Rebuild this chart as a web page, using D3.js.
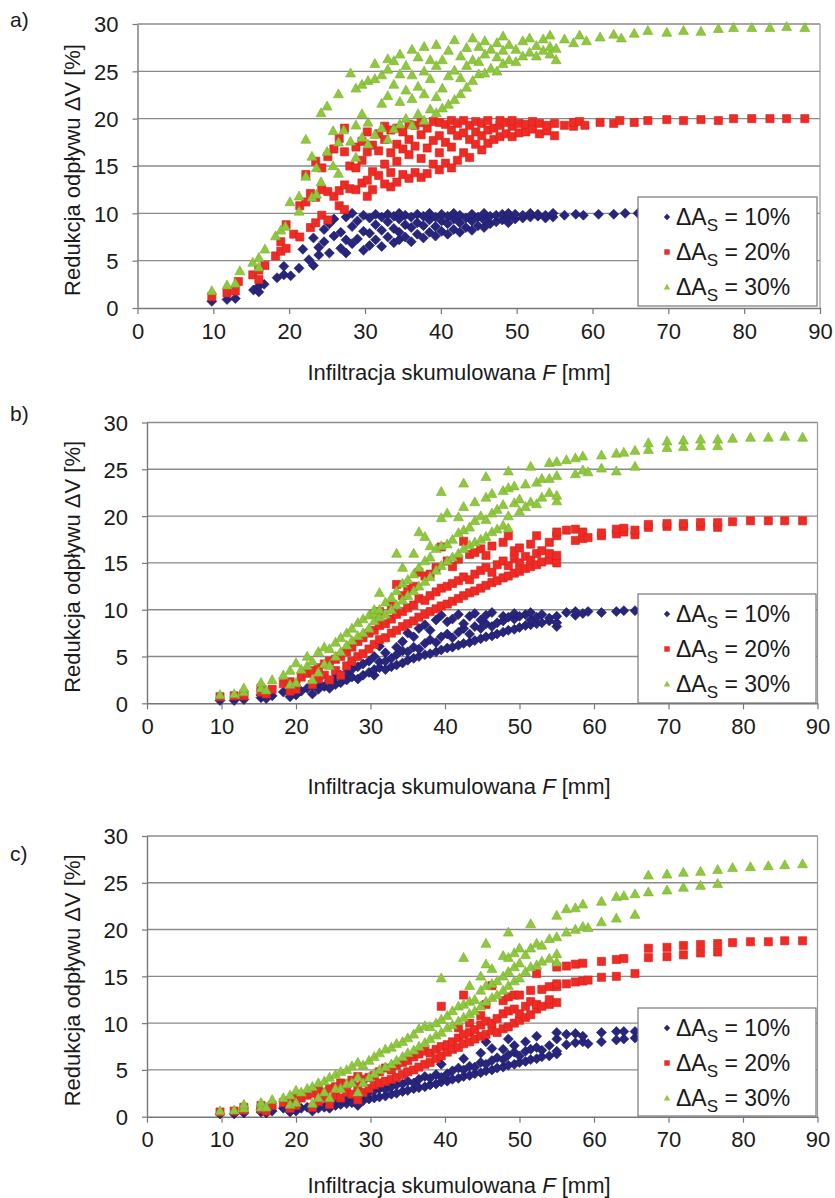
<!DOCTYPE html>
<html><head><meta charset="utf-8">
<script src="https://cdn.jsdelivr.net/npm/d3@7"></script>
<style>
body{margin:0;background:#fff}
svg{display:block}
text{font-family:"Liberation Sans",Arial,sans-serif;fill:#1a1a1a}
</style></head>
<body><svg id="chart" width="835" height="1198"></svg>
<script>
// ---- DATA: each entry = [F, y1, y2, ...] (points at same F) ----
const xTicks = [0,10,20,30,40,50,60,70,80,90];
const yTicks = [0,5,10,15,20,25,30];
const seriesLabels = ["10%","20%","30%"];
const panelLabels = ["a)","b)","c)"];
const xTitle = "Infiltracja skumulowana ";
const yTitle = "Redukcja odpływu ΔV [%]";

const a10 = [[9.8,0.7],[11.8,0.9],[12.9,1.0],[15.3,1.9],[16.0,1.7,2.3],[16.7,2.5],[18.4,3.2],[19.3,3.5,4.4],[20.2,3.4],[21.3,4.2],[21.8,6.2],[22.6,5.1],[23.2,4.5,7.4],[23.9,5.6,6.4],[24.6,7.0,8.3],[25.3,5.8,8.9],[25.9,7.6,9.4],[26.8,6.3,8.0],[27.5,5.8,7.2,9.6],[28.3,6.8,8.6,10.0],[29.0,7.3,9.2],[29.8,6.1,8.1,9.8],[30.6,6.6,7.9,9.5],[31.4,7.2,8.8,9.9],[32.2,6.5,8.2,9.6],[33.0,7.5,9.1,9.9],[33.8,6.9,8.4,9.7],[34.5,7.2,8.0,9.4,10.0],[35.3,7.5,8.8,9.8],[36.1,7.0,8.5,9.6],[36.9,7.8,9.0,9.9],[37.7,7.4,8.7,9.7],[38.5,8.0,9.3,10.0],[39.3,7.6,8.6,9.6],[40.1,8.1,9.2,9.9],[40.9,7.8,8.9,9.7],[41.7,8.3,9.4,10.0],[42.5,8.0,9.0,9.8],[43.3,8.5,9.5],[44.1,8.2,9.2,9.9],[44.9,8.7,9.6],[45.7,8.5,9.3,10.0],[46.5,8.9,9.7],[47.3,9.1,9.8],[48.1,9.3,9.9],[48.9,9.0,9.6,10.0],[49.8,9.4,9.9],[50.8,9.5,9.8],[51.8,9.6,10.0],[52.8,9.7,9.9],[53.8,9.5,9.8],[54.8,9.6,10.0],[56.3,9.8],[57.8,9.9],[58.8,9.8],[60.8,9.9],[62.8,9.9],[64.3,10.0],[66.0,10.0],[67.3,10.0],[69.8,10.0],[72.0,10.0],[74.3,10.0],[76.6,10.0],[78.6,10.0],[81.0,10.0],[83.4,10.0],[85.6,10.0],[88.0,10.0]];
const a20 = [[9.8,1.2],[11.8,1.6],[12.9,1.8],[13.3,2.8],[15.2,3.5],[16.0,3.0,4.0],[16.8,4.5],[18.2,5.5],[18.9,6.0,7.0],[19.6,6.3,8.8],[20.6,7.8],[21.4,7.5,10.8],[22.2,11.2,14.1],[22.8,8.5,12.1],[23.5,9.0,11.7,15.5],[24.3,9.8,12.5,14.8],[25.1,9.3,12.3,16.0],[25.9,11.8,16.8],[26.6,10.8,12.4,17.9],[27.3,10.4,13.0,16.5,19.0],[28.0,12.6,15.0],[28.8,12.5,14.8,17.0],[29.6,13.2,15.6,17.6],[30.3,11.8,13.5,16.5,18.6],[31.0,12.5,14.4,17.2],[31.8,14.0,16.6,18.4],[32.6,13.1,15.2,17.8,19.2],[33.4,12.8,14.3,16.4,18.8],[34.2,13.3,15.5,17.3,19.0],[35.0,14.1,16.8,18.6],[35.8,13.7,16.2,17.8,19.4],[36.6,14.3,17.1,19.3],[37.4,13.8,15.8,18.3,19.6],[38.2,14.2,16.9,19.0],[39.0,15.2,17.7,19.7],[39.8,14.6,16.4,18.2,19.6],[40.6,15.3,17.5,19.4],[41.4,14.8,17.0,18.8,19.8],[42.2,15.6,18.2,19.5],[43.0,16.4,18.5,19.8],[43.8,15.9,17.8,19.3],[44.6,17.3,18.6,19.7],[45.4,16.7,18.2,19.5],[46.2,17.4,18.8,19.8],[47.0,17.8,19.0],[47.8,18.1,19.3,19.8],[48.6,18.4,19.6],[49.4,18.1,19.2,19.8],[50.3,18.5,19.5],[51.2,18.6,19.4],[52.1,18.9,19.7],[53.0,18.4,19.5],[54.0,18.7,19.3],[55.0,18.2,19.5],[56.3,19.3],[57.5,19.2,19.6],[58.3,19.7],[59.0,19.3],[61.0,19.6],[62.8,19.5],[63.6,19.8],[65.5,19.6],[67.3,19.8],[69.8,19.9],[72.0,19.8],[74.3,19.9],[76.6,19.8],[78.6,20.0],[81.0,20.0],[83.4,20.0],[85.6,20.0],[88.0,20.0]];
const a30 = [[9.8,1.8],[11.8,2.4],[12.9,2.6],[13.5,3.9],[15.2,4.8],[16.0,4.3,5.3],[16.8,6.2],[18.2,7.6],[18.9,8.2],[19.5,8.6],[20.1,11.2],[21.3,10.2,11.8],[22.2,13.9,17.8],[23.0,11.7,16.0],[23.6,12.0,14.8],[24.2,13.3,20.6],[25.0,16.5,21.3],[25.8,15.0,18.7],[26.5,14.2,17.5,22.6],[27.2,18.8],[28.1,17.6,24.8],[28.8,15.9,19.3,23.2],[29.6,18.0,20.5,23.6],[30.4,17.3,19.6,24.0],[31.3,18.3,24.2,25.8],[32.2,19.0,21.6,24.6],[33.0,17.8,22.4,25.2,26.3],[33.8,18.9,23.6,26.1],[34.6,19.4,21.8,24.7,26.8],[35.4,20.0,23.0,25.6],[36.2,19.3,22.1,24.6,27.3],[37.0,20.5,23.4,26.5],[37.8,19.8,22.6,25.0,27.6],[38.6,21.0,24.2,26.2],[39.4,20.6,22.3,25.6,27.8],[40.2,21.1,23.2,26.2],[41.0,21.5,24.5,27.2],[41.8,22.0,25.1,28.3],[42.6,22.6,24.3,26.6],[43.4,23.3,25.6,27.5],[44.2,24.0,26.2,28.5],[45.0,24.7,26.0,27.6],[45.8,24.8,26.8,28.2],[46.6,25.3,27.3],[47.4,25.0,26.5,28.0],[48.2,25.8,27.2,28.7],[49.0,26.2,27.8],[49.9,26.0,27.3],[50.8,26.6,28.2],[51.7,27.0,28.5],[52.6,26.6,27.7],[53.5,27.2,28.4],[54.4,26.8,27.6,28.8],[55.2,26.2,27.4],[56.3,28.4],[57.5,28.0],[58.3,28.8],[59.2,28.2],[61.0,28.6],[62.8,28.9],[63.8,28.5],[65.5,29.0],[67.3,29.3],[69.8,29.1],[72.0,29.3],[74.3,29.2],[76.6,29.5],[78.6,29.6],[81.0,29.6],[83.4,29.6],[85.6,29.7],[88.0,29.6]];

const b10 = [[9.8,0.3],[11.7,0.3],[13.0,0.4],[15.3,0.6,0.9],[16.0,0.5],[16.8,0.8],[18.3,1.2],[19.2,0.7,1.4],[20.0,0.9],[20.7,1.3],[21.5,1.6],[22.2,1.0,1.9],[23.0,1.5,2.2],[23.8,1.8],[24.5,1.6,2.4],[25.3,2.0,2.8],[26.0,2.2,3.0],[26.8,2.5,3.3],[27.5,2.8,3.6],[28.3,2.6,3.9],[29.0,3.0,4.2],[29.8,3.3,4.5],[30.5,3.0,3.6,5.0],[31.2,3.8,4.4,6.1],[32.0,3.6,4.5,5.4],[32.8,3.9,4.8],[33.5,4.1,5.2,6.0],[34.3,4.3,5.6,6.6],[35.0,4.6,5.5,7.5],[35.8,4.8,6.0,7.1],[36.5,5.0,5.8,8.0],[37.3,5.2,6.4,8.4],[38.0,5.3,6.8,7.8],[38.8,5.5,6.5,8.9],[39.5,5.7,7.1,9.4],[40.3,5.9,7.4,8.7],[41.0,6.0,7.0,9.0],[41.8,6.2,7.6,9.5],[42.5,6.4,8.0,8.5],[43.3,6.5,7.4,9.3],[44.0,6.7,8.2,9.6],[44.8,6.9,8.0,8.9],[45.5,7.1,8.5,9.4],[46.3,7.2,8.2,9.7],[47.0,7.4,8.6],[47.8,7.6,8.8,9.3],[48.5,7.8,9.2],[49.3,7.9,9.0,9.6],[50.0,8.1,9.3],[50.8,8.3,9.5],[51.5,8.4,8.9,9.7],[52.3,8.5,9.2],[53.0,8.6,9.5],[54.0,8.8,9.1],[55.0,8.2,8.6,9.3],[56.3,9.7],[57.5,9.4,9.8],[58.5,9.6],[59.2,9.8],[61.0,9.7],[63.0,9.8],[64.0,9.9],[65.5,9.9],[67.3,9.9],[69.8,10.0],[72.0,10.0],[74.3,10.0],[76.6,10.0],[78.6,10.0],[81.0,10.0],[83.4,10.0],[85.6,10.0],[88.0,10.0]];
const b20 = [[9.8,0.7],[11.7,0.8],[13.0,0.8,1.0],[15.3,1.2,1.6],[16.0,1.0],[16.8,1.5],[18.3,2.1],[19.2,1.3,2.3],[20.0,1.5,2.0],[20.7,2.8],[21.5,3.2],[22.2,2.0,3.5],[23.0,2.6,3.8],[23.8,3.0,4.2],[24.5,2.5,4.5],[25.3,3.5,4.7],[26.0,3.0,5.0],[26.8,4.0,5.5],[27.5,4.5,6.0],[28.3,5.0,6.6],[29.0,5.3,7.0],[29.8,5.8,7.5],[30.5,6.3,7.8,9.5],[31.2,6.8,8.3,9.8],[32.0,7.0,8.5],[32.8,7.5,9.0,10.4],[33.5,7.8,9.5,12.7],[34.3,8.2,9.8,11.5],[35.0,8.5,10.2,12.2],[35.8,8.8,10.5,12.5],[36.5,9.2,11.2,14.0],[37.3,9.5,11.0,13.6],[38.0,9.8,11.5,13.8],[38.8,10.1,11.9,14.5],[39.5,10.4,12.3,16.7],[40.3,10.6,12.5,15.2],[41.0,10.9,12.8,14.6],[41.8,11.2,13.1,15.4],[42.5,11.5,13.5,17.3],[43.3,11.8,13.2,15.9],[44.0,12.0,13.8,16.1],[44.8,12.3,14.2,16.5],[45.5,12.6,14.5,15.8],[46.3,12.9,14.0,16.8],[47.0,13.1,14.8],[47.8,13.4,15.2,17.2],[48.5,13.6,14.7,17.9],[49.3,13.9,15.5,16.3],[50.0,14.1,15.0,16.6],[50.8,14.4,15.7],[51.5,14.6,15.3,17.0],[52.3,14.8,16.0,17.9],[53.0,15.1,16.3],[54.0,15.3,16.0,17.2],[55.0,15.0,15.8,17.9,18.3],[56.3,18.5],[57.5,17.4,18.6],[58.5,17.6,18.3],[59.2,17.7],[61.0,17.9,18.2],[63.0,18.1,18.6],[64.0,18.3,18.7],[65.5,18.0,18.5],[67.3,18.8,19.1],[69.8,18.9,19.2],[72.0,18.9,19.2],[74.3,18.9,19.3],[76.6,18.8,19.3],[78.6,19.4],[81.0,19.5],[83.4,19.5],[85.6,19.5],[88.0,19.5]];
const b30 = [[9.8,0.9],[11.7,1.0],[13.0,1.2,1.6],[15.3,1.6,2.2],[16.0,1.4],[16.8,2.5],[18.3,3.0],[19.2,2.0,3.5],[20.0,2.2,4.3],[20.7,3.6],[21.5,4.0,5.0],[22.2,2.5,4.5],[23.0,3.3,5.5],[23.8,4.2,6.0],[24.5,4.0,5.8],[25.3,5.0,6.5],[26.0,5.5,7.0],[26.8,6.2,7.5],[27.5,6.7,8.0],[28.3,7.2,8.6],[29.0,7.5,9.0],[29.8,8.0,9.4],[30.5,8.8,9.6,10.0],[31.2,9.2,10.0,11.8],[32.0,9.5,10.8],[32.8,10.0,11.3],[33.5,10.5,12.0,16.0],[34.3,11.0,12.8,14.5],[35.0,11.5,13.2],[35.8,12.0,13.8,16.0],[36.5,12.5,14.5,18.3],[37.3,13.0,15.2,17.8],[38.0,13.5,15.6,16.8],[38.8,14.2,16.5],[39.5,14.7,16.8,19.8,22.6],[40.3,15.2,17.0,20.3],[41.0,15.6,17.5],[41.8,16.0,18.2,19.9],[42.5,16.5,18.5,21.0,23.5],[43.3,16.9,18.8],[44.0,17.2,19.5,21.5],[44.8,17.5,20.0],[45.5,17.8,19.6,22.0,24.2],[46.3,18.3,20.3,22.4],[47.0,18.6,20.7],[47.8,19.0,21.2,22.7],[48.5,18.7,20.0,23.0,24.8],[49.3,21.4,23.2],[50.0,20.5,21.8],[50.8,21.0,23.4],[51.5,21.5,25.3],[52.3,21.3,23.6],[53.0,22.0,24.0],[54.0,22.5,24.0,25.7],[55.0,21.6,22.2,24.3,25.8],[56.3,26.0],[57.5,24.5,26.2],[58.5,24.9,26.4],[59.2,24.7],[61.0,25.1,26.5],[63.0,24.8,26.7],[64.0,26.8],[65.5,25.3,27.0],[67.3,27.1,27.8],[69.8,27.3,28.0],[72.0,27.4,28.1],[74.3,27.5,28.2],[76.6,27.5,28.2],[78.6,28.3],[81.0,28.4],[83.4,28.4],[85.6,28.5],[88.0,28.4]];

const c10 = [[9.8,0.3],[11.7,0.3],[13.0,0.4],[15.3,0.5,0.8],[16.0,0.4],[16.8,0.6],[18.3,0.9],[19.2,0.5,1.0],[20.0,0.6],[20.7,0.9],[21.5,1.0],[22.2,0.6,1.1],[23.0,0.9,1.3],[23.8,1.0],[24.5,0.9,1.4],[25.3,1.2,1.6],[26.0,1.3,1.8],[26.8,1.4,1.9],[27.5,1.5,2.1],[28.3,1.2,2.3],[29.0,1.7,2.4],[29.8,1.9,2.6],[30.5,2.0,2.8],[31.2,2.1,3.0],[32.0,2.2,2.9],[32.8,2.4,3.2],[33.5,2.5,3.4],[34.3,2.7,3.5],[35.0,2.8,3.8],[35.8,3.0,3.6],[36.5,3.1,4.0],[37.3,3.2,4.3],[38.0,3.4,4.1],[38.8,3.5,4.5],[39.5,3.7,4.2,5.6],[40.3,3.8,4.6],[41.0,4.0,4.9],[41.8,4.1,5.2],[42.5,4.3,5.0,6.2],[43.3,4.4,5.4],[44.0,4.6,5.3],[44.8,4.7,5.8,6.8],[45.5,4.9,5.6,8.0],[46.3,5.0,6.0,7.3],[47.0,5.2,6.3],[47.8,5.3,6.1,7.2],[48.5,5.5,6.6,8.3],[49.3,5.6,6.9,7.6],[50.0,5.8,6.5],[50.8,5.9,7.0,8.0],[51.5,6.1,7.2],[52.3,6.2,7.4,8.6],[53.0,6.4,7.1],[54.0,6.5,7.6],[55.0,6.7,7.0,8.3,9.0],[56.3,7.7,8.8],[57.5,7.9,8.9],[58.5,8.0,8.6],[59.2,7.8],[61.0,8.0,9.0],[63.0,8.2,9.1],[64.0,8.3,9.1],[65.5,8.4,9.1],[67.3,8.6,9.2],[69.8,8.7,9.3],[72.0,8.8,9.3],[74.3,8.9,9.4],[76.6,8.9,9.4],[78.6,9.4],[81.0,9.5],[83.4,9.5],[85.6,9.5],[88.0,9.5]];
const c20 = [[9.8,0.5],[11.7,0.6],[13.0,0.7,1.0],[15.3,0.8,1.2],[16.0,0.6],[16.8,1.2],[18.3,1.5],[19.2,0.9,1.7],[20.0,1.2,2.1],[20.7,2.0],[21.5,2.3],[22.2,1.0,2.5],[23.0,1.6,2.8],[23.8,2.0,2.6],[24.5,1.3,3.0],[25.3,2.2,3.2],[26.0,2.0,3.6],[26.8,2.6,3.5],[27.5,2.4,3.9],[28.3,1.8,3.2,4.3],[29.0,2.6,4.0],[29.8,3.0,4.2],[30.5,3.4,4.4],[31.2,3.6,4.8],[32.0,3.8,5.2],[32.8,4.0,5.0],[33.5,4.2,5.5],[34.3,4.5,5.8],[35.0,4.8,6.0],[35.8,5.0,6.4],[36.5,5.3,6.7],[37.3,5.6,7.0],[38.0,5.8,6.8],[38.8,6.2,7.2],[39.5,6.5,7.5,11.8],[40.3,6.9,7.7],[41.0,7.2,8.0],[41.8,7.4,8.4,9.5],[42.5,7.8,8.8,13.0],[43.3,8.0,9.0,10.0],[44.0,8.3,9.3],[44.8,8.6,9.8,10.8],[45.5,8.8,10.2,12.0],[46.3,9.2,10.0,14.0],[47.0,9.0,10.5],[47.8,9.4,11.0,12.4],[48.5,9.6,11.3,12.8],[49.3,10.0,11.5,13.0],[50.0,10.3,11.0,13.0],[50.8,10.6,11.8],[51.5,10.9,12.3,13.5],[52.3,11.5,12.0,15.3],[53.0,11.8,13.6],[54.0,12.0,12.5,13.9],[55.0,12.2,13.9,14.2,16.0],[56.3,14.2,16.1],[57.5,14.4,16.3],[58.5,14.5,16.4],[59.2,14.6],[61.0,14.9,16.6],[63.0,15.0,16.8],[64.0,16.9],[65.5,15.3],[67.3,17.0,18.0],[69.8,17.1,18.1],[72.0,17.3,18.3],[74.3,17.5,18.4],[76.6,17.6,18.5],[78.6,18.6],[81.0,18.7],[83.4,18.7],[85.6,18.8],[88.0,18.8]];
const c30 = [[9.8,0.6],[11.7,0.7],[13.0,0.9,1.3],[15.3,1.0,1.5],[16.0,1.0],[16.8,1.8],[18.3,2.0],[19.2,1.3,2.3],[20.0,1.5,2.8],[20.7,2.6],[21.5,3.0],[22.2,1.4,3.2],[23.0,2.0,3.6],[23.8,2.6,3.8],[24.5,2.0,4.2],[25.3,3.0,4.5],[26.0,3.0,4.8],[26.8,3.5,5.0],[27.5,3.6,5.4],[28.3,2.6,4.2,5.8],[29.0,3.6,5.5],[29.8,4.2,6.0],[30.5,4.6,6.4],[31.2,5.0,6.8],[32.0,5.3,7.2],[32.8,5.6,7.4],[33.5,6.0,7.8],[34.3,6.4,8.0],[35.0,6.8,8.4],[35.8,7.1,8.8],[36.5,7.5,9.4],[37.3,7.9,9.7],[38.0,8.3,9.6],[38.8,8.7,10.0],[39.5,9.0,10.4,14.8],[40.3,9.5,10.8],[41.0,9.8,11.3],[41.8,10.2,11.8],[42.5,10.6,12.0,17.0],[43.3,11.0,12.3,14.0],[44.0,11.3,12.5],[44.8,11.8,13.5,15.0],[45.5,12.3,14.0,16.3,18.5],[46.3,12.7,14.2,15.8],[47.0,13.0,14.5],[47.8,13.5,15.0,17.2],[48.5,14.0,15.5,17.0,19.7],[49.3,14.5,16.0,17.5],[50.0,14.8,16.4,18.0],[50.8,15.5,17.3],[51.5,16.0,18.0,20.6],[52.3,16.2,18.5],[53.0,16.6,18.3],[54.0,16.9,19.0],[55.0,16.5,17.4,19.2,21.5],[56.3,19.7,22.2],[57.5,20.0,22.3],[58.5,20.3,22.7],[59.2,20.2],[61.0,20.8,23.0],[63.0,21.2,23.5],[64.0,23.6],[65.5,21.6,23.8],[67.3,24.0,25.8],[69.8,24.2,25.9],[72.0,24.5,26.1],[74.3,24.7,26.2],[76.6,24.9,26.4],[78.6,26.6],[81.0,26.7],[83.4,26.8],[85.6,26.9],[88.0,27.0]];

// ---- LAYOUT ----
const panels = [
  {series:[a10,a20,a30], left:137.5, right:820, top:24, bottom:308, labelY:27, titleY:380, leg:{x:638,y:197,w:179,h:109}},
  {series:[b10,b20,b30], left:147, right:817.5, top:422.5, bottom:703.3, labelY:421, titleY:794, leg:{x:638,y:594,w:178,h:109}},
  {series:[c10,c20,c30], left:147, right:817.5, top:836, bottom:1116.7, labelY:861, titleY:1193, leg:{x:638,y:1008,w:178,h:108}}
];
const colors = ["#28257d","#ee2b24","#8fc73e"];
const strokes = ["#1d1a66","#d8221c","#7bb22e"];

const shapes = [
  r => `M0,${-r}L${r},0L0,${r}L${-r},0Z`,
  r => `M${-r*0.85},${-r*0.85}H${r*0.85}V${r*0.85}H${-r*0.85}Z`,
  r => `M0,${-r*1.05}L${r},${r*0.75}L${-r},${r*0.75}Z`
];
const sizes = [5.0,4.8,5.0];

const svg = d3.select("#chart");

panels.forEach((p,pi)=>{
  const x = d3.scaleLinear().domain([0,90]).range([p.left,p.right]);
  const y = d3.scaleLinear().domain([0,30]).range([p.bottom,p.top]);
  const g = svg.append("g");

  g.selectAll("line.grid").data(yTicks.filter(t=>t>0)).join("line")
    .attr("x1",p.left).attr("x2",p.right).attr("y1",d=>y(d)).attr("y2",d=>y(d))
    .attr("stroke","#8a8a8a").attr("stroke-width",1.4);
  g.append("line").attr("x1",p.right).attr("x2",p.right).attr("y1",p.top).attr("y2",p.bottom)
    .attr("stroke","#9a9a9a").attr("stroke-width",1.2);

  const xa = g.append("g").attr("transform",`translate(0,${p.bottom})`)
    .call(d3.axisBottom(x).tickValues(xTicks).tickSize(6).tickPadding(9).tickSizeOuter(0));
  const ya = g.append("g").attr("transform",`translate(${p.left},0)`)
    .call(d3.axisLeft(y).tickValues(yTicks).tickSize(5).tickPadding(14).tickSizeOuter(0));
  [xa,ya].forEach(a=>{
    a.select(".domain").attr("stroke","#777").attr("stroke-width",1.4);
    a.selectAll(".tick line").attr("stroke","#777").attr("stroke-width",1.2);
    a.selectAll(".tick text").attr("font-size",22).attr("fill","#1a1a1a")
      .attr("font-family",'"Liberation Sans",Arial,sans-serif');
  });
  xa.selectAll(".tick text").attr("dy","0.71em");
  ya.selectAll(".tick text").attr("dy","0.36em");

  p.series.forEach((s,si)=>{
    const pts = s.flatMap(c=>c.slice(1).map(v=>[c[0],v]));
    g.append("g").selectAll("path").data(pts).join("path")
      .attr("transform",d=>`translate(${x(d[0])},${y(d[1])})`)
      .attr("d",shapes[si](sizes[si]))
      .attr("fill",colors[si]).attr("stroke",strokes[si]).attr("stroke-width",0.6);
  });

  const L = p.leg;
  const lg = g.append("g").attr("transform",`translate(${L.x},${L.y})`);
  lg.append("rect").attr("width",L.w).attr("height",L.h).attr("fill","#fff")
    .attr("stroke","#777").attr("stroke-width",1.2);
  seriesLabels.forEach((lab,i)=>{
    const cy = 20 + i*35;
    lg.append("path").attr("transform",`translate(29,${cy})`).attr("d",shapes[i](3.2))
      .attr("fill",colors[i]);
    const t = lg.append("text").attr("x",38).attr("y",cy+8).attr("font-size",23);
    t.append("tspan").text("ΔA");
    t.append("tspan").attr("font-size",17).attr("dy",6).text("S");
    t.append("tspan").attr("dy",-6).text(" = " + lab);
  });

  svg.append("text").attr("transform",`translate(80,${(p.top+p.bottom)/2+4}) rotate(-90)`)
    .attr("text-anchor","middle").attr("font-size",22).text(yTitle);
  const xt = svg.append("text").attr("x",459).attr("y",p.titleY).attr("text-anchor","middle").attr("font-size",22);
  xt.append("tspan").text(xTitle);
  xt.append("tspan").attr("font-style","italic").text("F");
  xt.append("tspan").text(" [mm]");
  svg.append("text").attr("x",10).attr("y",p.labelY).attr("font-size",21)
    .attr("font-family",'"Liberation Serif","Times New Roman",serif').text(panelLabels[pi]);
});
</script>
</body></html>
